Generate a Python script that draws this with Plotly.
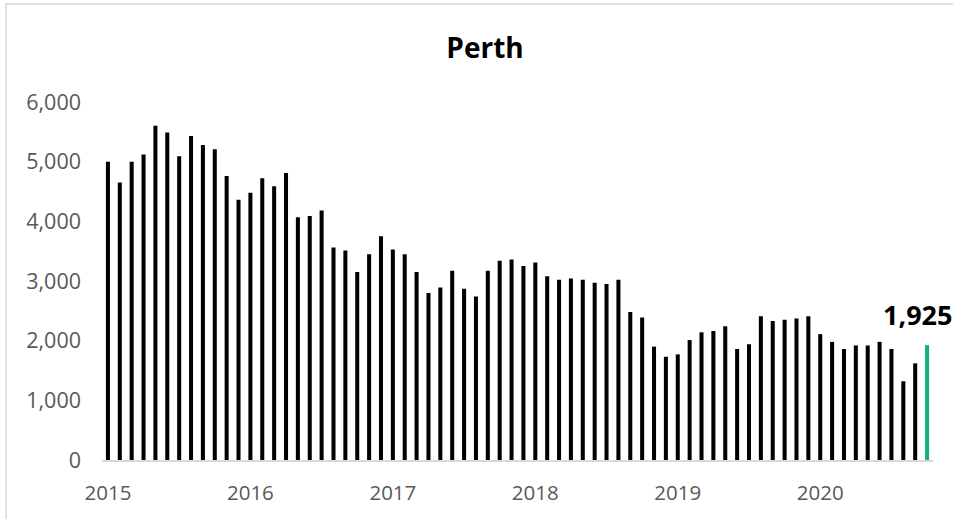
import plotly.graph_objects as go

# ---- data ----
months = [f"{y}-{m:02d}" for y in range(2015, 2021) for m in range(1, 13)][:70]
values = [
    5000, 4650, 5000, 5120, 5600, 5490, 5090, 5430, 5280, 5210, 4760, 4360,  # 2015
    4480, 4720, 4590, 4810, 4070, 4090, 4180, 3560, 3510, 3150, 3450, 3750,  # 2016
    3530, 3450, 3150, 2800, 2890, 3170, 2870, 2740, 3170, 3340, 3360, 3250,  # 2017
    3310, 3080, 3020, 3040, 3020, 2970, 2950, 3020, 2480, 2390, 1900, 1730,  # 2018
    1770, 2010, 2140, 2160, 2240, 1860, 1940, 2410, 2330, 2350, 2370, 2410,  # 2019
    2110, 1980, 1860, 1920, 1920, 1980, 1860, 1320, 1620, 1925,              # 2020
]
year_ticks = ["2015-01", "2016-01", "2017-01", "2018-01", "2019-01", "2020-01"]
year_labels = ["2015", "2016", "2017", "2018", "2019", "2020"]
y_ticks = [0, 1000, 2000, 3000, 4000, 5000, 6000]
title = "Perth"

colors = ["#000000"] * (len(values) - 1) + ["#14B27B"]

fig = go.Figure(
    go.Bar(x=months, y=values, marker=dict(color=colors, line=dict(width=0)),
           hoverinfo="x+y")
)

W, H = 953, 519
L, R, T, B = 102, 20, 102, 59
pw, ph = W - L - R, H - T - B

def px_x(p):
    return (p - L) / pw

def px_y(p):
    return (H - B - p) / ph

fig.update_layout(
    width=W, height=H,
    margin=dict(l=L, r=R, t=T, b=B, autoexpand=False),
    paper_bgcolor="white", plot_bgcolor="white",
    bargap=0.66,
    showlegend=False,
    font=dict(family="Open Sans, sans-serif", color="#595959"),
    title=dict(text=title, x=485 / W, xanchor="center", xref="container",
               y=1 - 48 / H, yanchor="middle", yref="container",
               font=dict(size=28, color="#000000", family="Open Sans, sans-serif",
                         weight="bold")),
    xaxis=dict(type="category", categoryorder="array", categoryarray=months,
               range=[-0.5, len(months) - 0.5],
               tickmode="array", tickvals=year_ticks, ticktext=year_labels,
               showgrid=False, zeroline=False,
               showline=True, linecolor="#d9d9d9", linewidth=2,
               ticks="", ticklabelstandoff=13,
               tickfont=dict(size=20.5, color="#595959")),
    yaxis=dict(range=[0, 6000], tickmode="array", tickvals=y_ticks,
               tickformat=",d", showgrid=False, zeroline=False, showline=False,
               ticks="", ticklabelstandoff=20,
               tickfont=dict(size=21.5, color="#595959")),
    annotations=[dict(x=months[-1], y=values[-1], xref="x", yref="y",
                      text=f"{values[-1]:,}", showarrow=False,
                      xanchor="center", yanchor="middle", xshift=-10, yshift=31,
                      font=dict(size=27, color="#000000", weight="bold",
                                family="Open Sans, sans-serif"))],
    shapes=[dict(type="rect", xref="paper", yref="paper", layer="below",
                 x0=px_x(6), x1=px_x(965), y0=px_y(535), y1=px_y(4),
                 line=dict(color="#d9d9d9", width=1.5), fillcolor="rgba(0,0,0,0)")],
)

fig.write_html(
    "out.html",
    config={"displayModeBar": False},
    post_script="document.body.style.margin='0';document.body.style.overflow='hidden';",
)
